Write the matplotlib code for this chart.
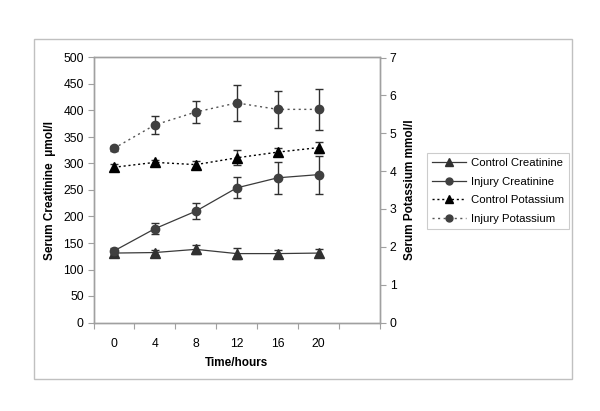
import matplotlib
matplotlib.use("Agg")
import matplotlib.pyplot as plt
from matplotlib.patches import Rectangle
from matplotlib.lines import Line2D

plt.rcParams['font.family'] = ['Liberation Sans', 'DejaVu Sans']

time_labels = ["0", "4", "8", "12", "16", "20"]
ctrl_creat = [131, 132, 138, 130, 130, 131]
ctrl_creat_err = [5, 5, 8, 10, 6, 8]
inj_creat = [135, 177, 210, 254, 273, 279]
inj_creat_err = [6, 10, 15, 20, 30, 36]
ctrl_k = [4.1, 4.23, 4.17, 4.35, 4.5, 4.62]
ctrl_k_err = [0.1, 0.06, 0.1, 0.2, 0.1, 0.15]
inj_k = [4.6, 5.22, 5.56, 5.8, 5.63, 5.63]
inj_k_err = [0.06, 0.24, 0.28, 0.47, 0.48, 0.54]

fig = plt.figure(figsize=(6, 4.11), dpi=100)
fig.patches.append(Rectangle((34/600, 1-379/411), (572-34)/600, (379-39)/411,
                             transform=fig.transFigure, fill=False,
                             edgecolor='#c0c0c0', linewidth=1.0))

ax1 = fig.add_axes([93.5/600, 1-322.5/411, (380-93.5)/600, (322.5-57.5)/411])
ax2 = ax1.twinx()

x = list(range(len(time_labels)))
dark = '#3a3a3a'

ax1.errorbar(x, ctrl_creat, yerr=ctrl_creat_err, color=dark, lw=0.9,
             marker='^', ms=6.5, mfc='#303030', mec='#303030',
             ecolor='#303030', elinewidth=1.0, capsize=3.2, capthick=1.0, zorder=3)
ax1.errorbar(x, inj_creat, yerr=inj_creat_err, color=dark, lw=0.9,
             marker='o', ms=6, mfc='#404040', mec='#404040',
             ecolor='#303030', elinewidth=1.0, capsize=3.2, capthick=1.0, zorder=3)
ax2.errorbar(x, ctrl_k, yerr=ctrl_k_err, color='black', lw=1.0, ls=(0, (1.5, 2)),
             marker='^', ms=6.5, mfc='black', mec='black',
             ecolor='#303030', elinewidth=1.0, capsize=3.2, capthick=1.0, zorder=3)
ax2.errorbar(x, inj_k, yerr=inj_k_err, color='#555555', lw=1.0, ls=(0, (1.5, 2.5)),
             marker='o', ms=6, mfc='#404040', mec='#404040',
             ecolor='#303030', elinewidth=1.0, capsize=3.2, capthick=1.0, zorder=3)

ax1.set_xlim(-0.5, 6.5)
ax1.set_ylim(0, 500)
ax2.set_ylim(0, 7)
ax1.set_yticks(range(0, 501, 50))
ax2.set_yticks(range(0, 8))
ax1.set_xticks(x)
ax1.set_xticklabels(time_labels)
ax1.set_xticks([i - 0.5 for i in range(8)], minor=True)
ax1.tick_params(axis='x', which='major', length=0, pad=11, labelsize=8.7)
ax1.tick_params(axis='x', which='minor', length=4, color='#a0a0a0', width=0.8)
ax1.tick_params(axis='y', length=4, color='#a0a0a0', width=0.8, labelsize=8.7, pad=3)
ax2.tick_params(axis='y', length=4, color='#a0a0a0', width=0.8, labelsize=8.7, pad=3)

for a in (ax1, ax2):
    for s in a.spines.values():
        s.set_color('#a0a0a0')
        s.set_linewidth(1.0)

ax1.set_xlabel('Time/hours', fontsize=8.5, fontweight='bold', labelpad=5)
ax1.set_ylabel('Serum Creatinine  \u03bcmol/l', fontsize=8.5, fontweight='bold', labelpad=5)
ax2.set_ylabel('Serum Potassium mmol/l', fontsize=8.5, fontweight='bold', labelpad=5)

handles = [
    Line2D([], [], color=dark, lw=0.9, marker='^', ms=5.5, mfc='#303030', mec='#303030'),
    Line2D([], [], color=dark, lw=0.9, marker='o', ms=5, mfc='#404040', mec='#404040'),
    Line2D([], [], color='black', lw=1.0, ls=(0, (1.5, 2)), marker='^', ms=5.5, mfc='black', mec='black'),
    Line2D([], [], color='#555555', lw=1.0, ls=(0, (1.5, 2.5)), marker='o', ms=5, mfc='#404040', mec='#404040'),
]
labels = ['Control Creatinine', 'Injury Creatinine', 'Control Potassium', 'Injury Potassium']
leg = fig.legend(handles, labels, loc='upper left',
                 bbox_to_anchor=(427/600, 1-153/411), fontsize=8.2,
                 frameon=True, fancybox=False, edgecolor='#c0c0c0',
                 handlelength=3.0, handletextpad=0.4, borderpad=0.45,
                 labelspacing=0.75, borderaxespad=0)
leg.get_frame().set_linewidth(0.8)

fig.savefig('out.png', dpi=100)
